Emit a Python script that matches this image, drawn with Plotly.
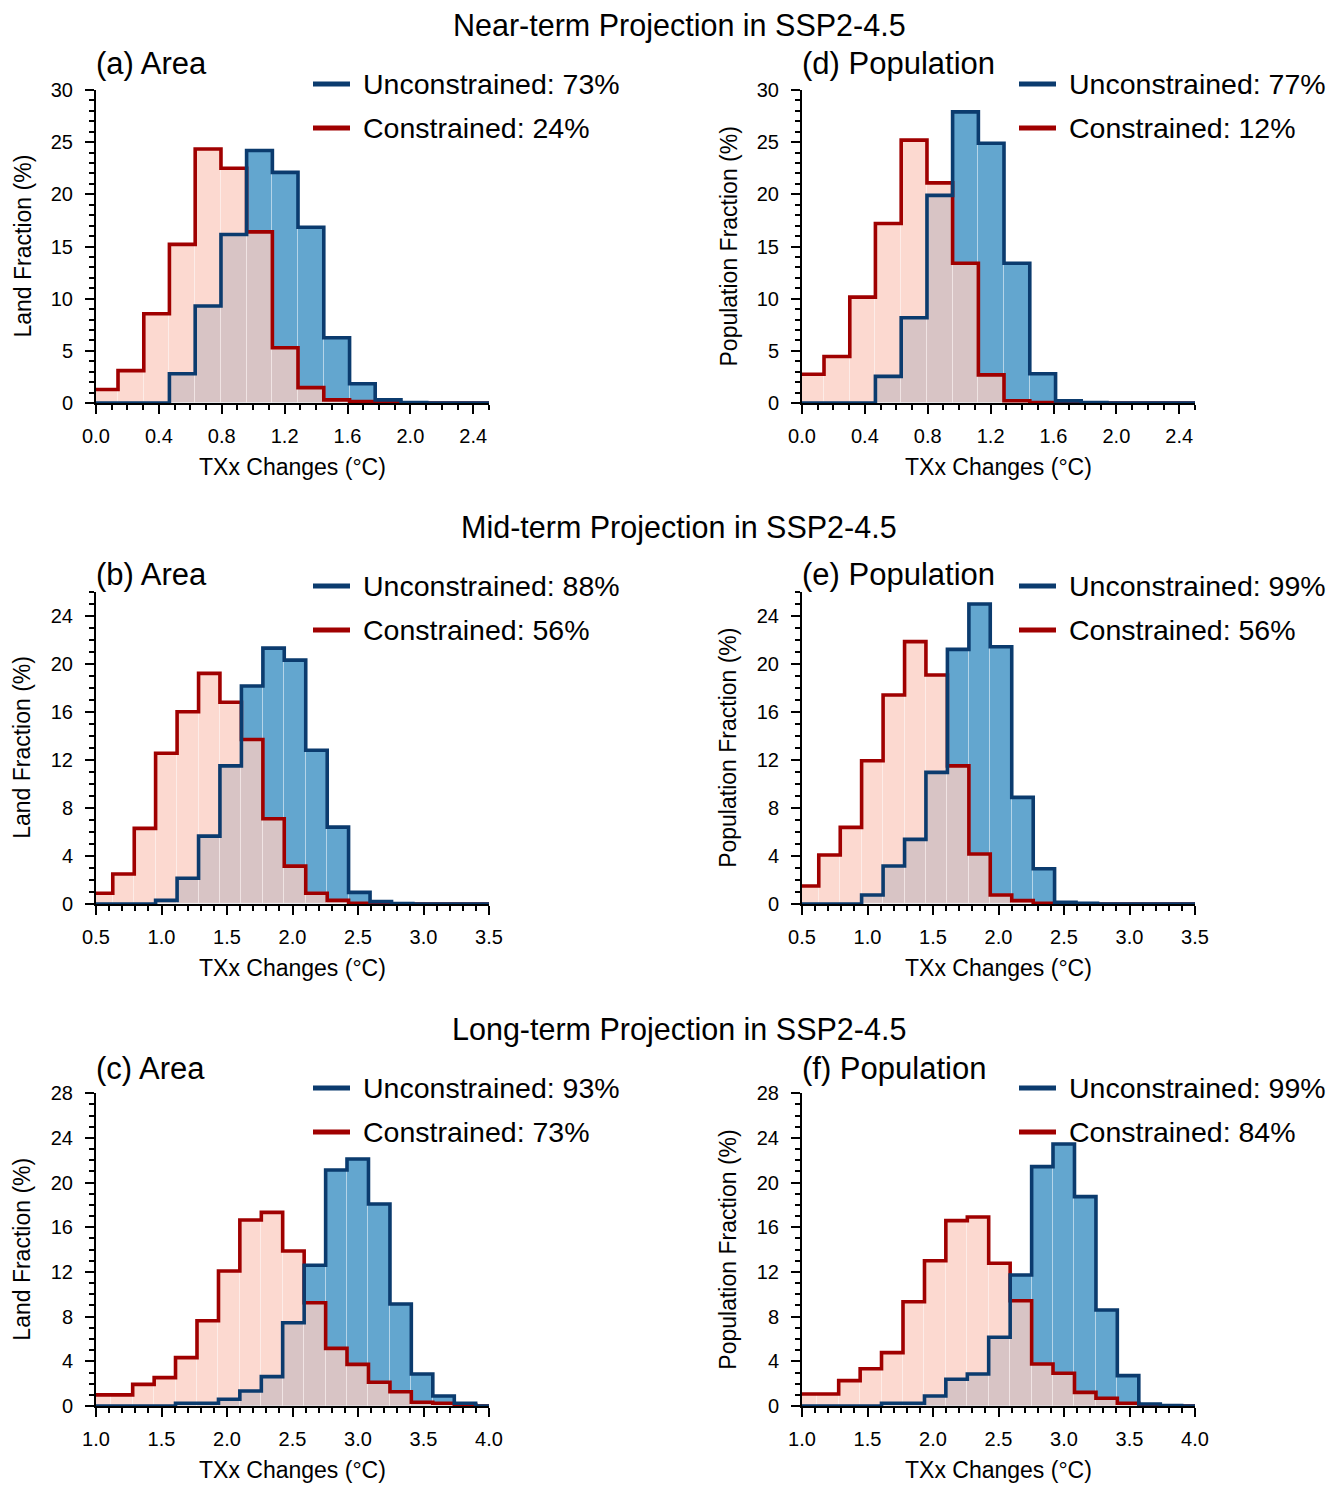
import plotly.graph_objects as go

# ---------------- data ----------------
near_edges = [0.0, 0.140, 0.304, 0.467, 0.631, 0.795, 0.958, 1.122, 1.285,
              1.449, 1.613, 1.776, 1.940, 2.104, 2.267, 2.431, 2.5]
mid_edges = [0.5, 0.628, 0.792, 0.955, 1.119, 1.283, 1.446, 1.610, 1.774, 1.937,
             2.101, 2.265, 2.428, 2.592, 2.756, 2.919, 3.083, 3.246, 3.410, 3.5]
long_edges = [1.0, 1.116, 1.280, 1.444, 1.607, 1.771, 1.935, 2.098, 2.262, 2.425,
              2.589, 2.753, 2.916, 3.080, 3.244, 3.407, 3.571, 3.735, 3.898, 4.0]

# (a) Near-term, Area
a_unc = [0, 0, 0, 2.8, 9.3, 16.15, 24.2, 22.1, 16.85, 6.25, 1.85, 0.3, 0.05, 0, 0, 0]
a_con = [1.3, 3.1, 8.55, 15.2, 24.35, 22.5, 16.4, 5.3, 1.47, 0.3, 0.15, 0.05, 0, 0, 0, 0]
# (d) Near-term, Population
d_unc = [0, 0, 0, 2.55, 8.17, 19.9, 27.9, 24.9, 13.4, 2.8, 0.2, 0.05, 0, 0, 0, 0]
d_con = [2.75, 4.45, 10.15, 17.2, 25.2, 21.1, 13.4, 2.7, 0.22, 0.05, 0, 0, 0, 0, 0, 0]
# (b) Mid-term, Area
b_unc = [0, 0, 0, 0.3, 2.15, 5.65, 11.5, 18.15, 21.3, 20.3, 12.8, 6.4, 0.97, 0.2, 0.03, 0, 0, 0, 0]
b_con = [0.9, 2.5, 6.3, 12.55, 16.0, 19.2, 16.8, 13.7, 7.1, 3.15, 0.9, 0.3, 0.05, 0, 0, 0, 0, 0, 0]
# (e) Mid-term, Population
e_unc = [0, 0, 0, 0.75, 3.16, 5.38, 10.96, 21.2, 24.97, 21.42, 8.88, 2.94, 0.15, 0.05, 0, 0, 0, 0, 0]
e_con = [1.5, 4.08, 6.38, 11.93, 17.4, 21.84, 19.06, 11.5, 4.16, 0.75, 0.28, 0.05, 0, 0, 0, 0, 0, 0, 0]
# (c) Long-term, Area
c_unc = [0, 0, 0, 0, 0.24, 0.24, 0.6, 1.34, 2.63, 7.46, 12.6, 21.13, 22.12, 18.09, 9.13, 2.87, 0.9, 0.24, 0]
c_con = [1.0, 1.0, 1.94, 2.54, 4.33, 7.64, 12.09, 16.66, 17.34, 13.88, 9.25, 5.16, 3.73, 2.12, 1.28, 0.33, 0.24, 0.1, 0]
# (f) Long-term, Population
f_unc = [0, 0, 0, 0, 0.24, 0.24, 0.9, 2.39, 2.87, 6.15, 11.73, 21.43, 23.46, 18.75, 8.6, 2.72, 0.18, 0.05, 0]
f_con = [1.07, 1.07, 2.27, 3.34, 4.78, 9.34, 13.01, 16.6, 16.93, 12.78, 9.43, 3.76, 2.93, 1.22, 0.69, 0.24, 0.05, 0, 0]

row_titles = ["Near-term Projection in SSP2-4.5",
              "Mid-term Projection in SSP2-4.5",
              "Long-term Projection in SSP2-4.5"]
panel_labels = ["(a) Area", "(d) Population", "(b) Area", "(e) Population",
                "(c) Area", "(f) Population"]
unc_pct = ["73%", "77%", "88%", "99%", "93%", "99%"]
con_pct = ["24%", "12%", "56%", "56%", "73%", "84%"]
y_titles = ["Land Fraction (%)", "Population Fraction (%)"]
x_title = "TXx Changes (°C)"

# ---------------- styling / layout ----------------
W, H = 1342, 1485
PAGE_OFFSET = 8  # browser body margin
FONT = "Liberation Sans, Arial, Helvetica, sans-serif"
NAVY = "#0b3b6e"
RED = "#a00000"
BLUE_FILL = "#63a6cf"
PINK_FILL = "rgba(251,206,194,0.77)"

col_x0 = [96, 802]
plot_w = 393
row_top = [90, 591.7, 1093.3]
row_bot = [403, 904, 1406]
title_y = [26, 527, 1029]
label_y = [64, 574, 1068]
leg_y = [(84, 128), (586, 630), (1088, 1132)]

panels = [
    dict(edges=near_edges, unc=a_unc, con=a_con, row=0, col=0, xr=[0, 2.5], xt0=0.0, xd=0.4, yr=30, yd=5),
    dict(edges=near_edges, unc=d_unc, con=d_con, row=0, col=1, xr=[0, 2.5], xt0=0.0, xd=0.4, yr=30, yd=5),
    dict(edges=mid_edges, unc=b_unc, con=b_con, row=1, col=0, xr=[0.5, 3.5], xt0=0.5, xd=0.5, yr=26, yd=4),
    dict(edges=mid_edges, unc=e_unc, con=e_con, row=1, col=1, xr=[0.5, 3.5], xt0=0.5, xd=0.5, yr=26, yd=4),
    dict(edges=long_edges, unc=c_unc, con=c_con, row=2, col=0, xr=[1.0, 4.0], xt0=1.0, xd=0.5, yr=28, yd=4),
    dict(edges=long_edges, unc=f_unc, con=f_con, row=2, col=1, xr=[1.0, 4.0], xt0=1.0, xd=0.5, yr=28, yd=4),
]


def px(x):
    return (x - PAGE_OFFSET) / W


def py(y):
    return 1 - (y - PAGE_OFFSET) / H


fig = go.Figure()
annotations = []
shapes = []

for i, p in enumerate(panels):
    n = i + 1
    xa = "x" if n == 1 else f"x{n}"
    ya = "y" if n == 1 else f"y{n}"
    edges = p["edges"]
    centers = [(edges[k] + edges[k + 1]) / 2 for k in range(len(edges) - 1)]
    widths = [edges[k + 1] - edges[k] for k in range(len(edges) - 1)]

    fig.add_trace(go.Bar(x=centers, y=p["unc"], width=widths, xaxis=xa, yaxis=ya,
                         marker=dict(color=BLUE_FILL,
                                     line=dict(color="rgba(255,255,255,0.3)", width=1)),
                         showlegend=False, hoverinfo="skip"))
    fig.add_trace(go.Bar(x=centers, y=p["con"], width=widths, xaxis=xa, yaxis=ya,
                         marker=dict(color=PINK_FILL,
                                     line=dict(color="rgba(255,255,255,0.3)", width=1)),
                         showlegend=False, hoverinfo="skip"))
    fig.add_trace(go.Scatter(x=edges, y=p["con"] + [p["con"][-1]], xaxis=xa, yaxis=ya,
                             mode="lines", line=dict(color=RED, width=3.6, shape="hv"),
                             cliponaxis=False, showlegend=False, hoverinfo="skip"))
    fig.add_trace(go.Scatter(x=edges, y=p["unc"] + [p["unc"][-1]], xaxis=xa, yaxis=ya,
                             mode="lines", line=dict(color=NAVY, width=3.6, shape="hv"),
                             cliponaxis=False, showlegend=False, hoverinfo="skip"))

    x0 = col_x0[p["col"]]
    top = row_top[p["row"]]
    bot = row_bot[p["row"]]
    xkey = "xaxis" if n == 1 else f"xaxis{n}"
    ykey = "yaxis" if n == 1 else f"yaxis{n}"
    fig.update_layout(**{
        xkey: dict(domain=[px(x0), px(x0 + plot_w)], anchor=ya, range=p["xr"],
                   tick0=p["xt0"], dtick=p["xd"], tickformat=".1f", automargin=False,
                   showline=True, linecolor="black", linewidth=2, mirror=False,
                   ticks="outside", ticklen=9, tickwidth=2, tickcolor="black",
                   ticklabelstandoff=5,
                   minor=dict(ticks="outside", dtick=0.1, tick0=p["xt0"], ticklen=5,
                              tickwidth=1.5, tickcolor="black", showgrid=False),
                   showgrid=False, zeroline=False, fixedrange=True,
                   tickfont=dict(family=FONT, size=20, color="black")),
        ykey: dict(domain=[py(bot), py(top)], anchor=xa, range=[0, p["yr"]],
                   tick0=0, dtick=p["yd"], automargin=False,
                   showline=True, linecolor="black", linewidth=2, mirror=False,
                   ticks="outside", ticklen=9, tickwidth=2, tickcolor="black",
                   ticklabelstandoff=8,
                   minor=dict(ticks="outside", dtick=1, ticklen=5, tickwidth=1.5,
                              tickcolor="black", showgrid=False),
                   showgrid=False, zeroline=False, fixedrange=True,
                   tickfont=dict(family=FONT, size=20, color="black")),
    })

    # panel label
    annotations.append(dict(text=panel_labels[i], x=px(x0 - 2), y=py(label_y[p["row"]]),
                            xref="paper", yref="paper", xanchor="left", yanchor="middle",
                            showarrow=False, font=dict(family=FONT, size=31, color="black")))
    # axis titles
    annotations.append(dict(text=x_title, x=px(x0 + plot_w / 2), y=py(bot + 64),
                            xref="paper", yref="paper", xanchor="center", yanchor="middle",
                            showarrow=False, font=dict(family=FONT, size=23, color="black")))
    annotations.append(dict(text=y_titles[p["col"]], x=px(x0 - 74), y=py((top + bot) / 2),
                            xref="paper", yref="paper", xanchor="center", yanchor="middle",
                            textangle=-90, showarrow=False,
                            font=dict(family=FONT, size=23, color="black")))
    # legend
    ly1, ly2 = leg_y[p["row"]]
    lx = x0 + 217
    for yy, col, txt in [(ly1, NAVY, "Unconstrained: " + unc_pct[i]),
                         (ly2, RED, "Constrained: " + con_pct[i])]:
        shapes.append(dict(type="line", xref="paper", yref="paper",
                           x0=px(lx), x1=px(lx + 37), y0=py(yy), y1=py(yy),
                           line=dict(color=col, width=5)))
        annotations.append(dict(text=txt, x=px(lx + 48), y=py(yy), xref="paper", yref="paper",
                                xanchor="left", yanchor="middle", showarrow=False,
                                font=dict(family=FONT, size=28.5, color="black")))

for r in range(3):
    annotations.append(dict(text=row_titles[r], x=px(679), y=py(title_y[r]),
                            xref="paper", yref="paper", xanchor="center", yanchor="middle",
                            showarrow=False, font=dict(family=FONT, size=30.5, color="black")))

fig.update_layout(width=W, height=H,
                  margin=dict(l=0, r=0, t=0, b=0, pad=0, autoexpand=False),
                  paper_bgcolor="white", plot_bgcolor="white",
                  barmode="overlay", bargap=0, showlegend=False,
                  annotations=annotations, shapes=shapes,
                  font=dict(family=FONT, color="black"))

fig.write_html("out.html")
